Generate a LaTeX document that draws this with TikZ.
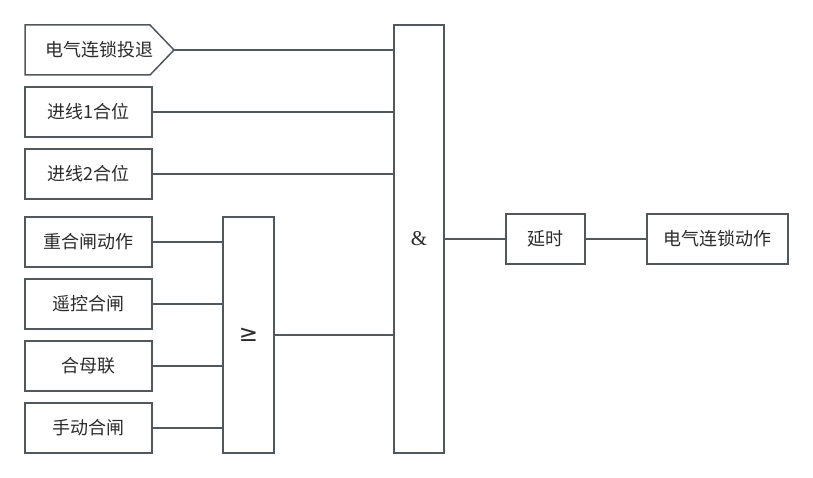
\documentclass[tikz,border=0pt]{standalone}
\usepackage{fontspec}
\usepackage{amsmath}
\usepackage{amssymb}
\newfontfamily\cjk{Noto Sans CJK SC}
\newfontfamily\serifamp{Liberation Serif}
\newfontfamily\symb{DejaVu Sans}
\usetikzlibrary{positioning}
\definecolor{edge}{HTML}{52575C}
\definecolor{txt}{HTML}{2B2B2B}

\begin{document}
\begin{tikzpicture}[node distance={62pt}, line width=1.5pt, edge,
        main/.style = {draw, rectangle, minimum width=127pt, minimum height=50pt, text=txt, font=\cjk\fontsize{18}{20}\selectfont},
        gate/.style = {draw, rectangle, text=txt}]
            \useasboundingbox (0,0) rectangle (813pt,-478pt);
            % input with pointed end
            \node[main, draw=none] (i1) at (99.5pt,-50pt) {电气连锁投退};
            \coordinate (i1p) at (174pt,-50pt);
            \draw (25pt,-25pt) -- (150pt,-25pt) -- (i1p) -- (150pt,-75pt) -- (25pt,-75pt) -- cycle;
            \node[main] (i2) at (88.5pt,-112pt) {进线1合位};
            \node[main] (i3) [below of=i2] {进线2合位};
            \node[main] (o1) at (88.5pt,-242pt) {重合闸动作};
            \node[main] (o2) [below of=o1] {遥控合闸};
            \node[main] (o3) [below of=o2] {合母联};
            \node[main] (o4) [below of=o3] {手动合闸};
            \node[gate, minimum width=51pt, minimum height=236pt, font=\symb\fontsize{23}{24}\selectfont] (or) at (248.5pt,-335pt) {≥};
            \node[gate, minimum width=50pt, minimum height=428pt, font=\serifamp\fontsize{21}{22}\selectfont] (and) at (419pt,-239pt) {\&};
            \node[main, minimum width=79pt] (dl) at (545.5pt,-239pt) {延时};
            \node[main, minimum width=141pt] (out) at (717.5pt,-239pt) {电气连锁动作};
            \draw (i1p) -- (i1p -| and.west);
            \draw (i2) -- (i2 -| and.west);
            \draw (i3) -- (i3 -| and.west);
            \draw (o1) -- (o1 -| or.west);
            \draw (o2) -- (o2 -| or.west);
            \draw (o3) -- (o3 -| or.west);
            \draw (o4) -- (o4 -| or.west);
            \draw (or) -- (or -| and.west);
            \draw (and) -- (dl);
            \draw (dl) -- (out);
        \end{tikzpicture}
\end{document}
